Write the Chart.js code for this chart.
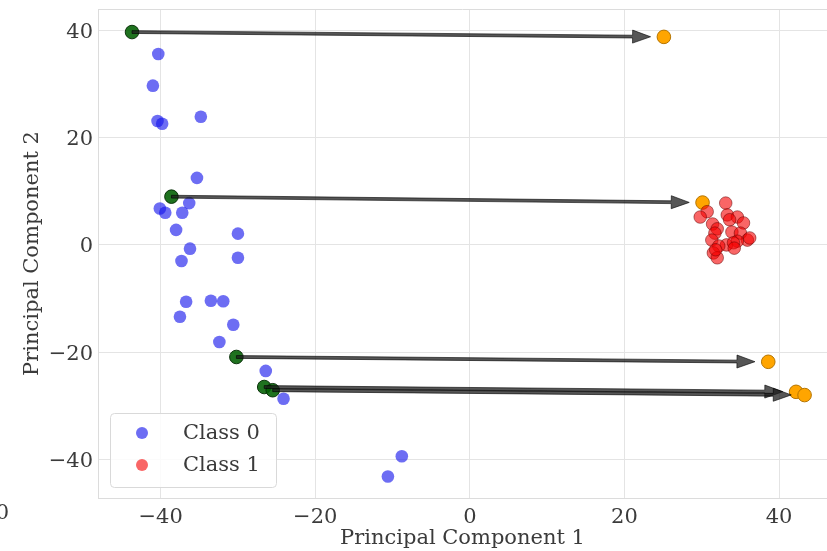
<!DOCTYPE html>
<html>
<head>
<meta charset="utf-8">
<script src="https://cdn.jsdelivr.net/npm/chart.js@4/dist/chart.umd.min.js"></script>
<style>
  html, body { margin:0; padding:0; background:#fff; overflow:hidden; }
  #wrap { position:relative; width:827px; height:551px; }
  #pca { display:block; }
</style>
</head>
<body>
<div id="wrap"><canvas id="pca"></canvas></div>
<script>
// Class 0 (blue)
const class0X = [-40.3,-41.0,-40.4,-39.8,-34.8,-35.3,-40.1,-39.4,-37.2,-36.3,-38.0,-30.0,-36.2,-37.3,-30.0,-36.7,-33.5,-31.9,-37.5,-30.6,-32.4,-26.4,-24.1,-8.8,-10.6];
const class0Y = [35.6,29.7,23.1,22.6,23.9,12.5,6.8,6.0,6.0,7.8,2.8,2.1,-0.7,-3.0,-2.4,-10.6,-10.4,-10.5,-13.4,-14.9,-18.1,-23.5,-28.7,-39.4,-43.2];
// Class 1 (red)
const class1X = [33.1,30.7,29.8,33.3,34.6,35.4,33.6,31.4,32.0,33.9,35.0,31.7,35.9,34.6,31.3,33.2,34.1,32.2,31.5,32.0,31.8,34.2,36.2];
const class1Y = [7.8,6.2,5.2,5.6,5.2,4.1,4.7,3.9,3.0,2.4,2.2,2.2,0.9,0.7,0.9,0.0,0.4,-0.2,-1.5,-2.4,-0.9,-0.6,1.3];
// moved points: start (green) -> end (orange)
const srcX = [-43.7,-38.6,-30.2,-26.6,-25.5];
const srcY = [39.7,9.0,-20.9,-26.5,-27.1];
const dstX = [25.1,30.1,38.6,42.2,43.3];
const dstY = [38.8,7.9,-21.8,-27.4,-28.0];

const xTicks = [-40,-20,0,20,40];
const yTicks = [-40,-20,0,20,40];

const FONT = "'DejaVu Serif', serif";
const TXT = '#3b3b3b';
const pts = (xs, ys) => xs.map((x,i)=>({x:x, y:ys[i]}));
const fmt = v => v < 0 ? '\u2212' + Math.abs(v) : String(v);

// arrows from green to orange, plus frame + legend
const arrowPlugin = {
  id:'arrows',
  afterDatasetsDraw(chart) {
    const {ctx, scales:{x, y}} = chart;
    ctx.save();
    srcX.forEach((sx,i) => {
      const x0 = x.getPixelForValue(sx), y0 = y.getPixelForValue(srcY[i]);
      const x1 = x.getPixelForValue(dstX[i]), y1 = y.getPixelForValue(dstY[i]);
      const tx = x0 + (x1-x0)*0.975, ty = y0 + (y1-y0)*0.975;
      const ang = Math.atan2(ty-y0, tx-x0);
      const len = Math.hypot(tx-x0, ty-y0);
      const hl = 18, hw = 6.5, sw = 1.4;
      ctx.save();
      ctx.translate(x0, y0);
      ctx.rotate(ang);
      ctx.beginPath();
      ctx.moveTo(0,-sw); ctx.lineTo(len-hl,-sw); ctx.lineTo(len-hl,-hw);
      ctx.lineTo(len,0);
      ctx.lineTo(len-hl,hw); ctx.lineTo(len-hl,sw); ctx.lineTo(0,sw);
      ctx.closePath();
      ctx.fillStyle = 'rgba(30,30,30,0.75)';
      ctx.fill();
      ctx.strokeStyle = 'rgba(0,0,0,0.75)';
      ctx.lineWidth = 0.8;
      ctx.stroke();
      ctx.restore();
    });
    ctx.restore();
  },
  afterDraw(chart) {
    const {ctx, chartArea:a} = chart;
    ctx.save();
    // top spine
    ctx.strokeStyle = '#dcdcdc';
    ctx.lineWidth = 1;
    ctx.beginPath(); ctx.moveTo(a.left, a.top+0.5); ctx.lineTo(a.right, a.top+0.5); ctx.stroke();
    // legend
    const lx = a.left + 12, ly = a.bottom - 85, lw = 166, lh = 74;
    ctx.beginPath();
    ctx.roundRect(lx+0.5, ly+0.5, lw, lh, 4);
    ctx.fillStyle = 'rgba(255,255,255,0.85)';
    ctx.fill();
    ctx.strokeStyle = '#d9d9d9';
    ctx.stroke();
    chart.data.datasets.slice(0,2).forEach((ds,i) => {
      const cy = ly + 20 + i*32;
      ctx.beginPath();
      ctx.arc(lx + 32, cy, 6, 0, Math.PI*2);
      ctx.fillStyle = ds.backgroundColor;
      ctx.fill();
      ctx.fillStyle = TXT;
      ctx.font = "21px " + FONT;
      ctx.textAlign = 'left';
      ctx.textBaseline = 'middle';
      ctx.fillText(ds.label, lx + 73, cy + 1);
    });
    // clipped tick label at the far left edge
    ctx.font = "21px " + FONT;
    ctx.textAlign = 'right';
    ctx.textBaseline = 'middle';
    ctx.fillStyle = TXT;
    ctx.fillText(fmt(-60), 9, a.bottom + 16);
    ctx.restore();
  }
};

new Chart(document.getElementById('pca'), {
  type:'scatter',
  data:{datasets:[
    {label:'Class 0', data:pts(class0X,class0Y), backgroundColor:'rgba(20,20,235,0.62)', borderWidth:0, pointRadius:6.3},
    {label:'Class 1', data:pts(class1X,class1Y), backgroundColor:'rgba(245,0,0,0.6)', borderColor:'rgba(100,0,0,0.5)', borderWidth:1, pointRadius:6.3},
    {label:'src', data:pts(srcX,srcY), backgroundColor:'rgba(0,95,0,0.88)', borderColor:'rgba(0,40,0,0.9)', borderWidth:1, pointRadius:6.8},
    {label:'dst', data:pts(dstX,dstY), backgroundColor:'#ffa500', borderColor:'#b47400', borderWidth:1, pointRadius:6.8}
  ]},
  options:{
    responsive:true, maintainAspectRatio:false, animation:false,
    layout:{autoPadding:false, padding:{top:9, right:0, left:0, bottom:0}},
    plugins:{legend:{display:false}, tooltip:{enabled:false}},
    scales:{
      x:{type:'linear', min:-48.1, max:46.2,
        afterBuildTicks:s=>{ s.ticks = xTicks.map(v=>({value:v})); },
        afterFit:s=>{ s.height = 53; s.paddingLeft = 0; s.paddingRight = 0; },
        grid:{color:'#e4e4e4', drawTicks:false},
        border:{color:'#dcdcdc'},
        ticks:{padding:7, color:TXT, font:{family:FONT, size:21}, callback:fmt, maxRotation:0},
        title:{display:true, text:'Principal Component 1', color:TXT, font:{family:FONT, size:21}, padding:{top:0, bottom:0}}
      },
      y:{type:'linear', min:-47.2, max:44,
        afterBuildTicks:s=>{ s.ticks = yTicks.map(v=>({value:v})); },
        afterFit:s=>{ s.width = 98; s.paddingTop = 0; s.paddingBottom = 0; },
        grid:{color:'#e4e4e4', drawTicks:false},
        border:{color:'#dcdcdc'},
        ticks:{padding:5, labelOffset:2, color:TXT, font:{family:FONT, size:21}, callback:fmt},
        title:{display:true, text:'Principal Component 2', color:TXT, font:{family:FONT, size:21}, padding:{top:20, bottom:0}}
      }
    }
  },
  plugins:[arrowPlugin]
});
</script>
</body>
</html>
